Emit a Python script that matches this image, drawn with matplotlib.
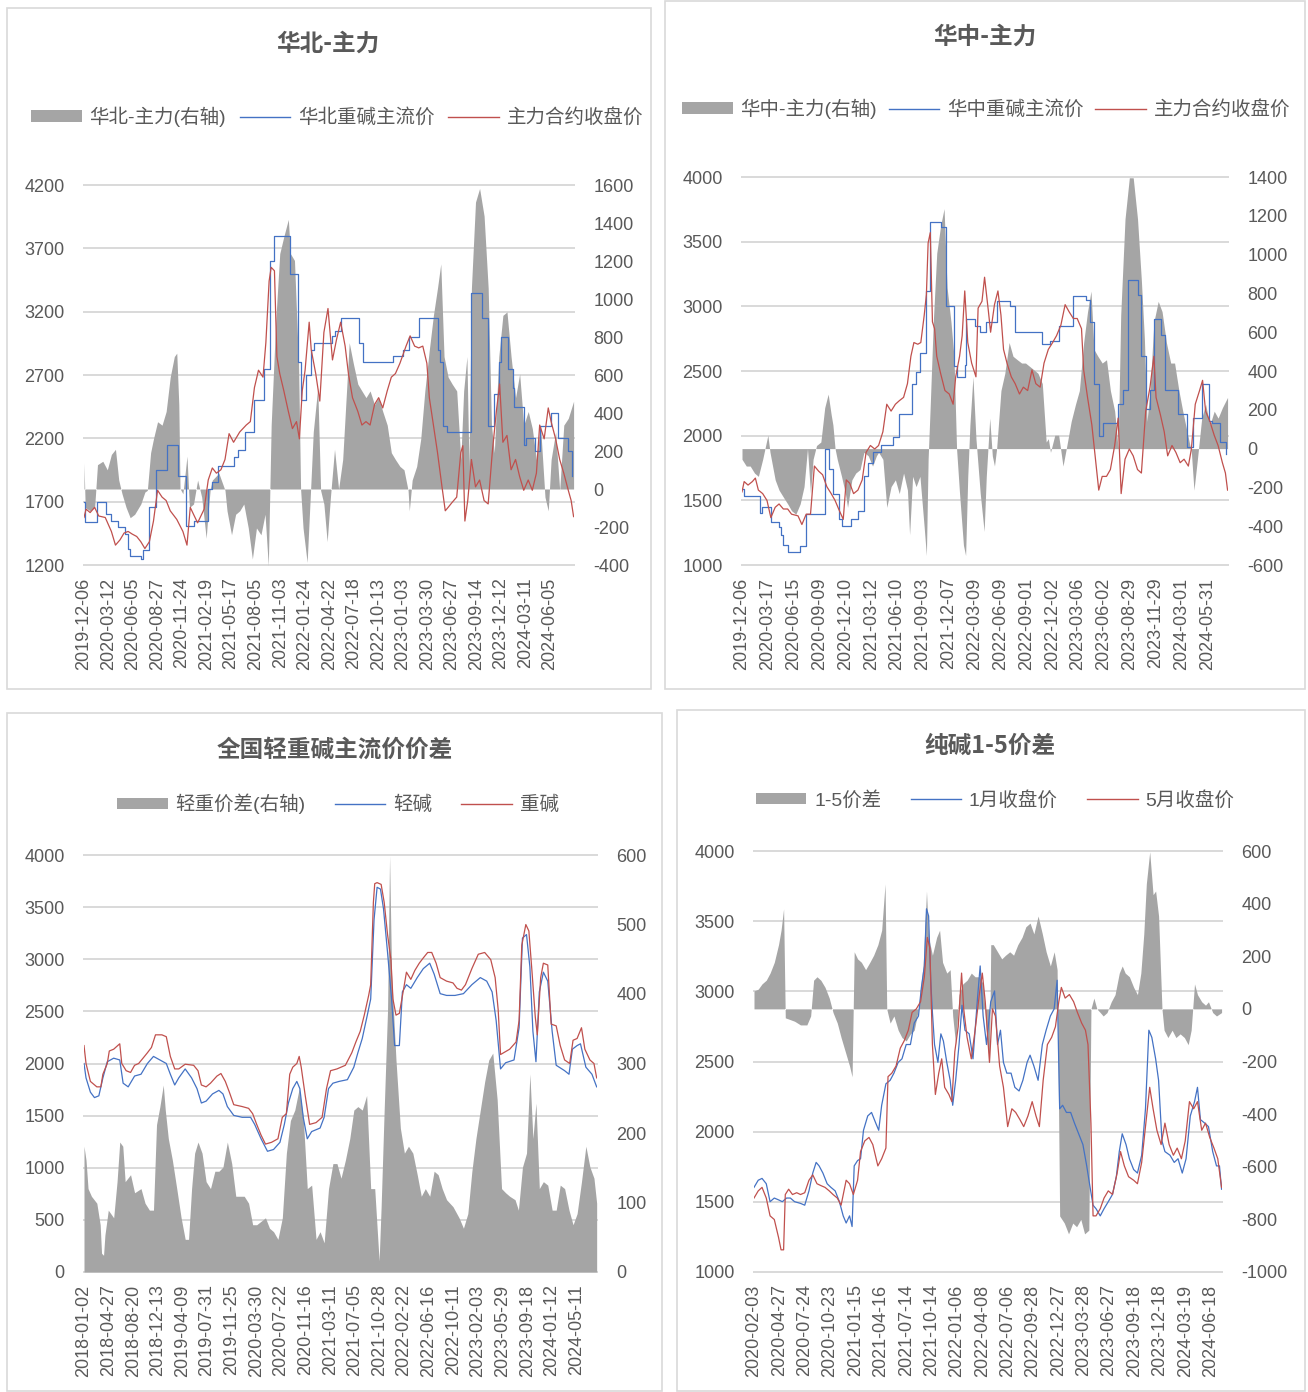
# -*- coding: utf-8 -*-
# 纯碱价格与价差四宫格图
import matplotlib
matplotlib.use('Agg')
from matplotlib import pyplot as plt
from matplotlib.patches import Rectangle, Patch
from matplotlib.lines import Line2D
from matplotlib.transforms import blended_transform_factory

plt.rcParams['font.family'] = ['Liberation Sans', 'Noto Sans CJK SC', 'DejaVu Sans']
plt.rcParams['axes.unicode_minus'] = False

GREY = '#a5a5a5'
BLUE = '#4472c4'
RED = '#c0504d'
TXT = '#595959'
GRID = '#d9d9d9'
W, H = 1308, 1392

# ---------------- 华北-主力 (x为交易日序号) ----------------
hb_labels = ['2019-12-06', '2020-03-12', '2020-06-05', '2020-08-27', '2020-11-24', '2021-02-19',
             '2021-05-17', '2021-08-05', '2021-11-03', '2022-01-24', '2022-04-22', '2022-07-18',
             '2022-10-13', '2023-01-03', '2023-03-30', '2023-06-27', '2023-09-14', '2023-12-12',
             '2024-03-11', '2024-06-05']
hb_rows = 1199
hb_area_x = [0, 3, 15, 26, 33, 46, 57, 67, 77, 85, 93, 103, 113, 124, 139, 149, 155, 163, 170, 180,
             191, 201, 211, 221, 227, 232, 235, 242, 252, 258, 268, 278, 288, 299, 304, 309, 314, 330, 345, 350,
             361, 371, 381, 391, 402, 412, 422, 433, 443, 451, 458, 469, 479, 489, 500, 505, 515, 525, 530, 536,
             546, 554, 561, 572, 579, 587, 595, 603, 613, 623, 633, 649, 659, 670, 680, 690, 700, 711, 721, 731,
             742, 752, 762, 773, 783, 793, 796, 803, 814, 824, 834, 845, 855, 865, 873, 881, 891, 901, 912, 922,
             929, 937, 942, 948, 958, 968, 979, 989, 997, 1004, 1015, 1025, 1035, 1045, 1056, 1066, 1076, 1087, 1097, 1107,
             1117, 1128, 1136, 1143, 1154, 1164, 1174, 1185, 1198]
hb_area_y = [138, -97, -115, -97, 128, 146, 101, 182, 209, 47, -25, -97, -151, -133, -79, -16, -7, 191, 264, 354,
             336, 408, 589, 697, 715, 444, 2, -25, 173, -97, -79, 47, -43, -259, -115, 2, 47, 83, -7, -115,
             -241, -133, -115, -79, -205, -368, -205, -241, -133, -404, 336, 878, 1239, 1329, 1419, 1239, 1203, 661, 0, -205,
             -386, -25, 300, 534, -7, -79, -277, -43, 209, 0, 155, 770, 661, 552, 516, 481, 516, 444, 481, 408,
             336, 191, 155, 119, 101, -7, -115, 47, 119, 264, 516, 733, 914, 1058, 1185, 697, 589, 552, 516, 155,
             516, 697, 119, 1058, 1510, 1582, 1437, 1058, 336, 191, 697, 914, 932, 697, 481, 606, 336, 408, 318, 155,
             336, -43, -115, 155, 300, -7, 336, 372, 462]
hb_price_x = [0, 3, 33, 54, 67, 82, 101, 108, 113, 139, 144, 160, 177, 204, 229, 250, 268, 304, 314, 328,
              368, 378, 394, 417, 441, 455, 464, 503, 523, 530, 544, 556, 564, 608, 613, 628, 672, 682, 757, 781,
              795, 819, 865, 872, 878, 888, 948, 973, 989, 1004, 1015, 1020, 1038, 1049, 1053, 1076, 1082, 1104, 1115, 1143,
              1159, 1185, 1195]
hb_price_y = [1700, 1540, 1700, 1600, 1550, 1500, 1445, 1330, 1275, 1250, 1315, 1655, 1950, 2150, 1900, 1505, 1550, 1800, 1855, 1985,
              2050, 2105, 2250, 2500, 2750, 3600, 3800, 3500, 2800, 2500, 2700, 2900, 2950, 3010, 3050, 3150, 2950, 2800, 2850, 2900,
              3000, 3150, 2900, 2800, 2300, 2250, 3350, 3150, 2300, 2550, 2800, 3000, 2750, 2600, 2450, 2150, 2200, 2100, 2300, 2400,
              2200, 2100, 1900]
hb_close_x = [0, 5, 15, 26, 36, 52, 67, 77, 88, 98, 108, 118, 129, 139, 149, 160, 170, 180, 191, 201,
              211, 227, 242, 252, 260, 268, 278, 294, 304, 314, 324, 335, 345, 355, 366, 381, 397, 407, 417, 427,
              438, 445, 453, 458, 466, 472, 479, 489, 500, 510, 520, 527, 534, 541, 551, 556, 567, 577, 587, 597,
              608, 618, 628, 639, 647, 657, 670, 680, 690, 700, 711, 721, 731, 742, 752, 762, 773, 788, 798, 809,
              819, 829, 839, 845, 855, 865, 876, 884, 891, 901, 912, 922, 927, 932, 939, 948, 958, 968, 979, 989,
              999, 1009, 1017, 1025, 1035, 1045, 1056, 1066, 1076, 1087, 1097, 1107, 1115, 1126, 1136, 1143, 1154, 1164, 1174, 1185,
              1192, 1198]
hb_close_y = [1575, 1641, 1614, 1655, 1587, 1575, 1465, 1357, 1398, 1452, 1465, 1444, 1425, 1384, 1330, 1384, 1547, 1790, 1736, 1709,
              1628, 1560, 1465, 1357, 1655, 1600, 1533, 1641, 1871, 1966, 1925, 1952, 2033, 2237, 2169, 2250, 2305, 2332, 2600, 2738,
              2683, 2955, 3442, 3550, 3523, 2845, 2711, 2575, 2413, 2277, 2332, 2196, 2575, 2738, 3117, 2900, 2711, 2494, 3036, 3225,
              2819, 2982, 3117, 2928, 2711, 2521, 2413, 2305, 2332, 2305, 2467, 2521, 2440, 2575, 2683, 2711, 2792, 2928, 3009, 2928,
              2914, 2928, 2792, 2521, 2305, 2088, 1817, 1628, 1655, 1695, 1736, 2088, 2142, 1547, 1709, 2033, 1817, 1871, 1709, 1682,
              2088, 2413, 2629, 2169, 2223, 1952, 2033, 1898, 1790, 1871, 1790, 1925, 2305, 2196, 2440, 2332, 2196, 2033, 1925, 1790,
              1709, 1582]

# ---------------- 华中-主力 ----------------
hz_labels = ['2019-12-06', '2020-03-17', '2020-06-15', '2020-09-09', '2020-12-10', '2021-03-12',
             '2021-06-10', '2021-09-03', '2021-12-07', '2022-03-09', '2022-06-09', '2022-09-01',
             '2022-12-02', '2023-03-06', '2023-06-02', '2023-08-29', '2023-11-29', '2024-03-01',
             '2024-05-31']
hz_rows = 1128
hz_area_x = [0, 10, 19, 29, 38, 48, 60, 65, 77, 86, 96, 106, 115, 125, 135, 144, 152, 159, 165, 173,
             183, 192, 200, 207, 211, 216, 221, 231, 240, 245, 255, 264, 274, 283, 293, 303, 312, 317, 327, 336,
             346, 356, 365, 375, 384, 389, 396, 404, 413, 423, 428, 432, 437, 444, 452, 461, 469, 476, 485, 492,
             498, 505, 514, 519, 524, 529, 536, 543, 553, 562, 567, 575, 581, 586, 591, 601, 610, 620, 629, 639,
             649, 658, 668, 678, 687, 697, 706, 711, 716, 726, 735, 745, 754, 764, 774, 783, 793, 802, 810, 817,
             826, 836, 846, 855, 865, 873, 879, 889, 899, 908, 918, 927, 934, 940, 947, 956, 966, 975, 985, 995,
             1004, 1014, 1023, 1033, 1043, 1049, 1057, 1067, 1076, 1086, 1096, 1105, 1115, 1127]
hz_area_y = [-55, -90, -90, -126, -143, -55, 69, -19, -161, -214, -250, -285, -320, -338, -285, -196, 0, -232, -55, 16,
             34, 211, 281, 175, 122, 0, -55, -143, -232, -303, -161, -126, -108, -19, -37, -90, -37, -19, -55, -303,
             -196, -161, -232, -126, -214, -444, -143, -196, -143, -409, -551, -55, 228, 653, 1007, 1149, 1237, 830, 653, 476,
             0, -232, -498, -551, -143, 122, 370, 51, -232, -427, -143, 157, -37, -90, 0, 299, 388, 547, 476, 458,
             441, 441, 423, 405, 388, 335, 34, 51, -19, 69, 69, -90, 16, 140, 228, 299, 547, 706, 812, 511,
             476, 441, 458, 299, 193, 0, 688, 1184, 1396, 1396, 1184, 865, 564, 140, 299, 653, 759, 706, 547, 441,
             441, 299, 193, 87, -19, -214, -55, 157, 228, 122, 193, 157, 211, 264]
hz_price_x = [0, 5, 41, 46, 67, 86, 91, 96, 106, 135, 149, 192, 202, 211, 226, 231, 252, 269, 283, 293,
              303, 322, 351, 365, 394, 404, 413, 428, 437, 463, 473, 493, 498, 517, 521, 540, 553, 567, 591, 622,
              634, 697, 716, 735, 769, 798, 807, 817, 828, 838, 873, 884, 896, 920, 927, 937, 947, 956, 973, 982,
              1011, 1033, 1047, 1067, 1083, 1091, 1110, 1124]
hz_price_y = [1590, 1530, 1400, 1450, 1330, 1290, 1230, 1155, 1100, 1150, 1395, 1900, 1740, 1550, 1355, 1300, 1355, 1420, 1685, 1790,
              1870, 1925, 1990, 2165, 2400, 2495, 2640, 3120, 3650, 3610, 3000, 2535, 2455, 2550, 2905, 2850, 2800, 2880, 3045, 3000,
              2800, 2705, 2735, 2850, 3080, 3050, 2880, 2400, 2000, 2095, 2245, 2350, 3200, 3090, 2615, 2205, 2350, 2905, 2775, 2350,
              2165, 1910, 2135, 2400, 2110, 2095, 1950, 1857]
hz_close_x = [0, 5, 14, 24, 31, 38, 48, 58, 67, 77, 86, 96, 106, 115, 130, 139, 149, 159, 168, 178,
              187, 197, 207, 216, 226, 235, 242, 250, 259, 269, 279, 288, 298, 308, 317, 327, 336, 346, 356, 365,
              375, 384, 392, 399, 408, 415, 423, 428, 432, 437, 442, 447, 452, 461, 471, 481, 490, 496, 505, 511,
              517, 524, 533, 543, 548, 557, 563, 572, 577, 586, 594, 601, 607, 615, 625, 634, 644, 653, 663, 673,
              682, 692, 701, 711, 721, 730, 740, 750, 759, 769, 778, 788, 793, 802, 812, 822, 828, 836, 846, 855,
              865, 873, 880, 889, 899, 908, 918, 927, 937, 947, 956, 961, 971, 980, 988, 998, 1007, 1017, 1026, 1036,
              1043, 1052, 1062, 1069, 1076, 1086, 1096, 1105, 1115, 1122, 1127]
hz_close_y = [1565, 1645, 1618, 1645, 1672, 1579, 1552, 1499, 1366, 1446, 1472, 1433, 1433, 1393, 1380, 1313, 1393, 1393, 1765, 1725,
              1698, 1605, 1552, 1499, 1420, 1353, 1658, 1632, 1552, 1579, 1658, 1871, 1924, 1897, 1924, 2030, 2243, 2190, 2243, 2270,
              2296, 2402, 2614, 2720, 2707, 2720, 2933, 3092, 3490, 3570, 2880, 2827, 2614, 2481, 2349, 2322, 2243, 2455, 2614, 2773,
              3119, 2720, 2561, 2455, 2986, 3039, 3225, 2959, 2800, 3013, 3119, 2933, 2667, 2561, 2455, 2402, 2322, 2375, 2349, 2508,
              2402, 2375, 2561, 2667, 2720, 2773, 2853, 3013, 2959, 2906, 2906, 2827, 2508, 2296, 2083, 1765, 1579, 1685, 1685, 1738,
              1924, 2136, 1552, 1818, 1897, 1844, 1738, 1711, 2190, 2375, 2614, 2296, 2163, 2030, 1844, 1924, 1871, 1791, 1818, 1765,
              1897, 2243, 2349, 2428, 2190, 2110, 2003, 1924, 1791, 1711, 1579]

# ---------------- 全国轻重碱主流价价差 ----------------
qz_labels = ['2018-01-02', '2018-04-27', '2018-08-20', '2018-12-13', '2019-04-09', '2019-07-31',
             '2019-11-25', '2020-03-30', '2020-07-22', '2020-11-16', '2021-03-11', '2021-07-05',
             '2021-10-28', '2022-02-22', '2022-06-16', '2022-10-11', '2023-02-03', '2023-05-29',
             '2023-09-18', '2024-01-12', '2024-05-11']
qz_rows = 1521
qz_area_x = [0, 6, 12, 22, 38, 48, 52, 58, 62, 72, 88, 98, 106, 115, 122, 138, 150, 169, 181, 194,
             206, 215, 225, 235, 241, 250, 262, 275, 288, 300, 310, 319, 328, 338, 350, 362, 375, 388, 400, 412,
             425, 438, 450, 462, 475, 488, 500, 512, 525, 538, 550, 562, 575, 588, 600, 612, 625, 638, 650, 662,
             675, 688, 700, 712, 725, 738, 750, 762, 775, 788, 800, 812, 825, 838, 850, 862, 875, 881, 890, 900,
             906, 912, 925, 938, 950, 962, 975, 988, 1000, 1012, 1025, 1038, 1050, 1062, 1075, 1094, 1112, 1125, 1138, 1150,
             1162, 1175, 1188, 1200, 1212, 1225, 1238, 1250, 1262, 1278, 1288, 1300, 1312, 1322, 1331, 1340, 1350, 1362, 1375, 1388,
             1400, 1412, 1425, 1438, 1450, 1462, 1475, 1488, 1500, 1512, 1520]
qz_area_y = [181, 161, 120, 109, 99, 68, 27, 24, 53, 89, 78, 130, 187, 181, 130, 140, 114, 120, 99, 89,
             89, 212, 238, 269, 233, 192, 161, 120, 78, 47, 47, 120, 171, 187, 171, 130, 120, 145, 145, 151,
             187, 156, 109, 109, 109, 99, 68, 68, 73, 78, 63, 58, 47, 78, 171, 218, 233, 264, 223, 120,
             125, 47, 58, 42, 120, 156, 156, 135, 161, 192, 233, 238, 233, 254, 120, 120, 16, 94, 233, 377,
             599, 429, 305, 207, 171, 181, 171, 140, 109, 120, 109, 145, 140, 120, 104, 94, 78, 63, 84, 145,
             192, 233, 274, 305, 315, 248, 120, 114, 109, 104, 89, 151, 171, 285, 192, 243, 120, 130, 125, 89,
             89, 125, 120, 89, 68, 84, 130, 181, 151, 135, 99]
qz_light_x = [0, 6, 19, 31, 44, 56, 69, 88, 106, 116, 131, 150, 169, 188, 206, 225, 244, 256, 269, 281,
              300, 319, 335, 348, 362, 381, 400, 412, 425, 444, 469, 494, 506, 525, 544, 562, 581, 594, 606, 619,
              631, 640, 650, 662, 675, 700, 712, 725, 738, 756, 781, 800, 812, 825, 840, 850, 860, 869, 879, 888,
              900, 912, 921, 935, 944, 956, 969, 988, 1006, 1025, 1038, 1056, 1075, 1100, 1125, 1150, 1175, 1194, 1210, 1222,
              1235, 1250, 1275, 1290, 1300, 1312, 1322, 1331, 1340, 1350, 1362, 1375, 1388, 1400, 1425, 1438, 1448, 1462, 1472, 1488,
              1506, 1520]
qz_light_y = [2000, 1862, 1725, 1673, 1690, 1862, 2017, 2051, 2034, 1811, 1776, 1880, 1897, 2000, 2068, 2034, 2000, 1897, 1794, 1862,
              1948, 1862, 1759, 1621, 1639, 1708, 1742, 1708, 1587, 1502, 1484, 1484, 1416, 1278, 1158, 1175, 1244, 1416, 1621, 1759,
              1828, 1759, 1484, 1278, 1347, 1381, 1484, 1759, 1811, 1828, 1845, 1965, 2103, 2240, 2464, 2618, 3381, 3690, 3673, 3484,
              3065, 2618, 2172, 2172, 2687, 2756, 2721, 2824, 2910, 2962, 2859, 2670, 2653, 2653, 2670, 2756, 2824, 2790, 2687, 2412,
              1948, 2007, 2034, 2343, 3203, 3237, 2927, 2309, 2017, 2687, 2876, 2790, 2309, 1983, 1931, 1897, 2137, 2172, 2189, 1965,
              1897, 1776]
qz_heavy_x = [0, 6, 19, 38, 50, 56, 69, 75, 88, 100, 106, 112, 125, 138, 150, 162, 175, 188, 200, 212,
              231, 244, 256, 269, 281, 300, 325, 338, 348, 362, 375, 394, 406, 419, 431, 444, 469, 488, 500, 512,
              525, 538, 556, 575, 588, 600, 610, 619, 631, 638, 644, 656, 669, 688, 706, 719, 731, 750, 775, 794,
              806, 819, 831, 844, 850, 858, 862, 869, 881, 890, 900, 910, 916, 925, 935, 948, 956, 969, 981, 994,
              1006, 1019, 1031, 1044, 1056, 1075, 1094, 1106, 1119, 1131, 1150, 1169, 1188, 1206, 1219, 1228, 1235, 1244, 1262, 1281,
              1290, 1298, 1310, 1319, 1328, 1338, 1344, 1354, 1362, 1375, 1385, 1400, 1412, 1425, 1440, 1450, 1462, 1475, 1485, 1500,
              1512, 1520]
qz_heavy_y = [2172, 2000, 1828, 1776, 1776, 1897, 2000, 2120, 2137, 2172, 2189, 2000, 1931, 1914, 1983, 2000, 2051, 2103, 2154, 2275,
              2275, 2257, 2068, 1948, 1948, 1993, 1983, 1931, 1794, 1776, 1811, 1879, 1904, 1828, 1725, 1605, 1587, 1570, 1519, 1416,
              1313, 1227, 1244, 1278, 1484, 1519, 1897, 1965, 2000, 2068, 1965, 1690, 1416, 1433, 1484, 1759, 1931, 1948, 1983, 2103,
              2206, 2309, 2464, 2653, 2756, 3546, 3725, 3735, 3718, 3546, 3237, 2996, 2618, 2464, 2481, 2721, 2876, 2807, 2893, 2962,
              3013, 3065, 3065, 2962, 2824, 2790, 2773, 2721, 2704, 2756, 2910, 3048, 3065, 2996, 2824, 2515, 2086, 2103, 2137, 2206,
              2412, 3134, 3333, 3271, 2893, 2446, 2275, 2824, 2962, 2945, 2378, 2361, 2172, 2034, 2000, 2223, 2240, 2343, 2137, 2034,
              2000, 1862]

# ---------------- 纯碱1-5价差 ----------------
cj_labels = ['2020-02-03', '2020-04-27', '2020-07-24', '2020-10-23', '2021-01-15', '2021-04-16',
             '2021-07-14', '2021-10-14', '2022-01-06', '2022-04-08', '2022-07-06', '2022-09-28',
             '2022-12-27', '2023-03-28', '2023-06-27', '2023-09-18', '2023-12-18', '2024-03-19',
             '2024-06-18']
cj_rows = 1107
cj_area_x = [0, 10, 19, 29, 38, 48, 58, 64, 70, 74, 86, 96, 110, 125, 134, 141, 149, 158, 168, 178,
             187, 197, 206, 216, 226, 232, 237, 245, 254, 264, 274, 283, 293, 302, 310, 314, 322, 331, 341, 350,
             360, 370, 379, 389, 394, 400, 408, 413, 422, 432, 439, 446, 456, 464, 470, 477, 485, 494, 504, 514,
             523, 533, 542, 552, 557, 560, 566, 576, 586, 595, 605, 614, 624, 634, 643, 653, 662, 672, 682, 691,
             701, 710, 717, 723, 734, 744, 754, 763, 773, 782, 792, 797, 804, 811, 819, 826, 835, 845, 854, 864,
             871, 878, 888, 898, 907, 915, 922, 928, 936, 944, 950, 957, 965, 970, 979, 989, 998, 1008, 1018, 1027,
             1034, 1042, 1049, 1059, 1068, 1075, 1085, 1094, 1106]
cj_area_y = [68, 75, 95, 109, 136, 177, 244, 299, 380, -34, -41, -47, -61, -61, -27, 109, 122, 109, 82, 41,
             -14, -54, -109, -163, -217, -258, 217, 190, 177, 149, 177, 204, 244, 299, 475, 0, -54, -27, -81, -109,
             -122, -95, -81, 0, 82, 163, 448, 272, 204, 272, 299, 177, 136, 149, -27, -136, 54, 95, 109, 136,
             122, 122, 95, -136, -203, 244, 244, 217, 190, 204, 217, 204, 244, 272, 312, 326, 285, 353, 285, 217,
             163, 217, 149, -787, -814, -855, -814, -828, -800, -855, -841, 0, 41, 0, -14, -27, -14, 27, 54, 136,
             163, 136, 122, 82, 54, 136, 285, 475, 597, 434, 448, 353, 0, -81, -109, -81, -109, -95, -109, -136,
             -81, 95, 54, 27, 14, 27, -14, -27, -14]
cj_jan_x = [0, 10, 19, 29, 38, 48, 58, 67, 77, 86, 96, 110, 120, 130, 139, 147, 154, 163, 173, 182,
            192, 202, 211, 218, 226, 232, 237, 245, 252, 259, 269, 278, 288, 295, 302, 312, 322, 331, 341, 350,
            360, 370, 379, 389, 396, 403, 408, 413, 418, 422, 427, 435, 442, 448, 456, 464, 470, 477, 485, 492,
            499, 509, 518, 528, 535, 542, 550, 560, 569, 576, 583, 590, 598, 608, 617, 627, 636, 646, 653, 662,
            672, 682, 691, 701, 710, 717, 723, 730, 739, 749, 758, 768, 778, 787, 795, 802, 809, 819, 828, 838,
            848, 857, 864, 871, 880, 888, 898, 907, 917, 926, 934, 941, 950, 957, 965, 972, 984, 994, 1003, 1013,
            1022, 1032, 1042, 1049, 1056, 1066, 1075, 1085, 1094, 1101, 1106]
cj_jan_y = [1603, 1654, 1667, 1629, 1501, 1527, 1514, 1501, 1527, 1527, 1501, 1489, 1476, 1578, 1705, 1781, 1756, 1705, 1629, 1603,
            1578, 1501, 1400, 1349, 1400, 1324, 1756, 1794, 1807, 2010, 2112, 2137, 2061, 2010, 2188, 2341, 2366, 2417, 2494, 2519,
            2621, 2621, 2774, 2824, 3028, 3181, 3588, 3537, 3079, 2850, 2621, 2494, 2697, 2646, 2494, 2366, 2188, 2366, 2621, 2901,
            2723, 2697, 2519, 2926, 3181, 2824, 2621, 2926, 3003, 2621, 2723, 2494, 2417, 2417, 2316, 2290, 2366, 2494, 2545, 2468,
            2366, 2621, 2723, 2824, 2875, 3079, 2163, 2188, 2137, 2137, 2061, 1985, 1908, 1756, 1603, 1476, 1451, 1400, 1451, 1501,
            1553, 1679, 1858, 1985, 1908, 1807, 1730, 1705, 1832, 2163, 2723, 2672, 2519, 2366, 1934, 1858, 1832, 1781, 1807, 1705,
            1807, 2112, 2214, 2316, 2086, 2061, 2036, 1858, 1756, 1756, 1590]
cj_may_x = [0, 10, 19, 29, 38, 48, 58, 64, 70, 74, 82, 91, 101, 110, 120, 130, 139, 149, 158, 168,
            178, 187, 197, 206, 218, 226, 235, 245, 252, 262, 272, 281, 293, 302, 312, 317, 326, 336, 346, 355,
            365, 374, 384, 394, 403, 410, 416, 422, 429, 437, 444, 451, 461, 468, 475, 483, 491, 496, 504, 514,
            523, 533, 540, 547, 557, 564, 571, 581, 590, 600, 610, 619, 629, 638, 648, 658, 667, 675, 684, 694,
            704, 713, 721, 727, 736, 746, 756, 765, 775, 784, 790, 797, 802, 809, 819, 828, 838, 848, 859, 867,
            876, 886, 898, 907, 917, 926, 936, 944, 953, 963, 972, 982, 992, 1001, 1011, 1020, 1030, 1040, 1049, 1059,
            1068, 1078, 1088, 1097, 1106]
cj_may_y = [1527, 1578, 1603, 1527, 1400, 1374, 1247, 1158, 1158, 1552, 1590, 1552, 1565, 1552, 1565, 1654, 1692, 1629, 1616, 1603,
            1578, 1552, 1527, 1476, 1654, 1629, 1552, 1654, 1858, 1934, 1959, 1908, 1756, 1807, 1883, 2392, 2417, 2468, 2595, 2646,
            2723, 2850, 2875, 2926, 3104, 3384, 3308, 2621, 2265, 2417, 2519, 2316, 2265, 2214, 2570, 2748, 3130, 2875, 2672, 2519,
            2723, 2977, 3130, 2926, 2494, 2875, 2824, 2468, 2316, 2036, 2163, 2137, 2086, 2036, 2112, 2214, 2112, 2036, 2366, 2621,
            2672, 2748, 2926, 3028, 2952, 2977, 2926, 2850, 2774, 2723, 2621, 2061, 1400, 1400, 1451, 1527, 1578, 1553, 1705, 1858,
            1756, 1679, 1654, 1629, 1781, 2036, 2316, 2163, 2010, 1908, 2061, 1908, 1832, 1883, 1807, 1934, 2214, 2163, 2214, 2010,
            2061, 1959, 1883, 1807, 1603]

fig = plt.figure(figsize=(W / 100, H / 100), dpi=100)


def box(x0, y0, x1, y1):
    # 像素坐标 -> 画布比例
    return (x0 / W, 1 - y1 / H, (x1 - x0) / W, (y1 - y0) / H)


def draw_panel(frame, plot, title, title_xy, legend_xy, colspace, names, labels, tick_step, rows,
               left_ticks, right_ticks, area, blue, red, blue_step=False):
    fig.add_artist(Rectangle(frame[:2], frame[2], frame[3], transform=fig.transFigure,
                             fill=False, edgecolor=GRID, lw=1.2))
    ax = fig.add_axes(plot)
    ax2 = ax.twinx()
    ax.set_zorder(ax2.get_zorder() + 1)
    ax.patch.set_visible(False)

    # 灰色面积(右轴)
    ax2.fill_between(area[0], 0, area[1], color=GREY, lw=0, zorder=2)
    ax2.set_ylim(right_ticks[0], right_ticks[-1])
    ax2.set_yticks(right_ticks)

    # 两条价格线(左轴)
    ax.plot(blue[0], blue[1], color=BLUE, lw=0.9, drawstyle='steps-post' if blue_step else 'default')
    ax.plot(red[0], red[1], color=RED, lw=0.9)
    ax.set_ylim(left_ticks[0], left_ticks[-1])
    ax.set_yticks(left_ticks)
    ax.set_xlim(0, rows)
    ax.set_xticks([i * tick_step for i in range(len(labels))])
    ax.set_xticklabels(labels, rotation=90)

    # 网格线放在面积图下方
    trans = blended_transform_factory(ax2.transAxes, ax.transData)
    for v in left_ticks:
        ax2.plot([0, 1], [v, v], transform=trans, color=GRID, lw=1.4, zorder=0, clip_on=False)

    for a in (ax, ax2):
        for s in a.spines.values():
            s.set_visible(False)
        a.tick_params(length=0, labelsize=13, colors=TXT)
    ax.tick_params(axis='y', pad=14)
    ax.tick_params(axis='x', pad=9)
    ax2.tick_params(axis='y', pad=14)

    fig.text(title_xy[0] / W, 1 - title_xy[1] / H, title, ha='center', va='center',
             fontsize=17, fontweight='bold', color=TXT, family=['Noto Sans CJK SC'])
    handles = [Patch(facecolor=GREY, edgecolor='none'),
               Line2D([], [], color=BLUE, lw=1),
               Line2D([], [], color=RED, lw=1)]
    fig.legend(handles, names, loc='center', bbox_to_anchor=(legend_xy[0] / W, 1 - legend_xy[1] / H),
               ncol=3, frameon=False, fontsize=14, labelcolor=TXT, handlelength=2.6,
               handleheight=0.55, handletextpad=0.4, columnspacing=colspace)


draw_panel(box(7, 8, 651, 689), box(84, 185, 574, 565), '华北-主力', (328, 44), (337, 117), 0.7,
           ['华北-主力(右轴)', '华北重碱主流价', '主力合约收盘价'], hb_labels, 60, hb_rows,
           list(range(1200, 4201, 500)), list(range(-400, 1601, 200)),
           (hb_area_x, hb_area_y), (hb_price_x, hb_price_y), (hb_close_x, hb_close_y), blue_step=True)

draw_panel(box(665, 1, 1305, 689), box(742, 177, 1228, 565), '华中-主力', (985, 37), (986, 109), 0.6,
           ['华中-主力(右轴)', '华中重碱主流价', '主力合约收盘价'], hz_labels, 60, hz_rows,
           list(range(1000, 4001, 500)), list(range(-600, 1401, 200)),
           (hz_area_x, hz_area_y), (hz_price_x, hz_price_y), (hz_close_x, hz_close_y), blue_step=True)

draw_panel(box(7, 713, 662, 1391), box(84, 855, 597, 1272), '全国轻重碱主流价价差', (335, 750), (338, 804), 1.5,
           ['轻重价差(右轴)', '轻碱', '重碱'], qz_labels, 73, qz_rows,
           list(range(0, 4001, 500)), list(range(0, 601, 100)),
           (qz_area_x, qz_area_y), (qz_light_x, qz_light_y), (qz_heavy_x, qz_heavy_y))

draw_panel(box(677, 710, 1305, 1391), box(754, 851, 1222, 1272), '纯碱1-5价差', (990, 746), (995, 800), 1.5,
           ['1-5价差', '1月收盘价', '5月收盘价'], cj_labels, 60, cj_rows,
           list(range(1000, 4001, 500)), list(range(-1000, 601, 200)),
           (cj_area_x, cj_area_y), (cj_jan_x, cj_jan_y), (cj_may_x, cj_may_y))

fig.savefig('out.png', dpi=100)
